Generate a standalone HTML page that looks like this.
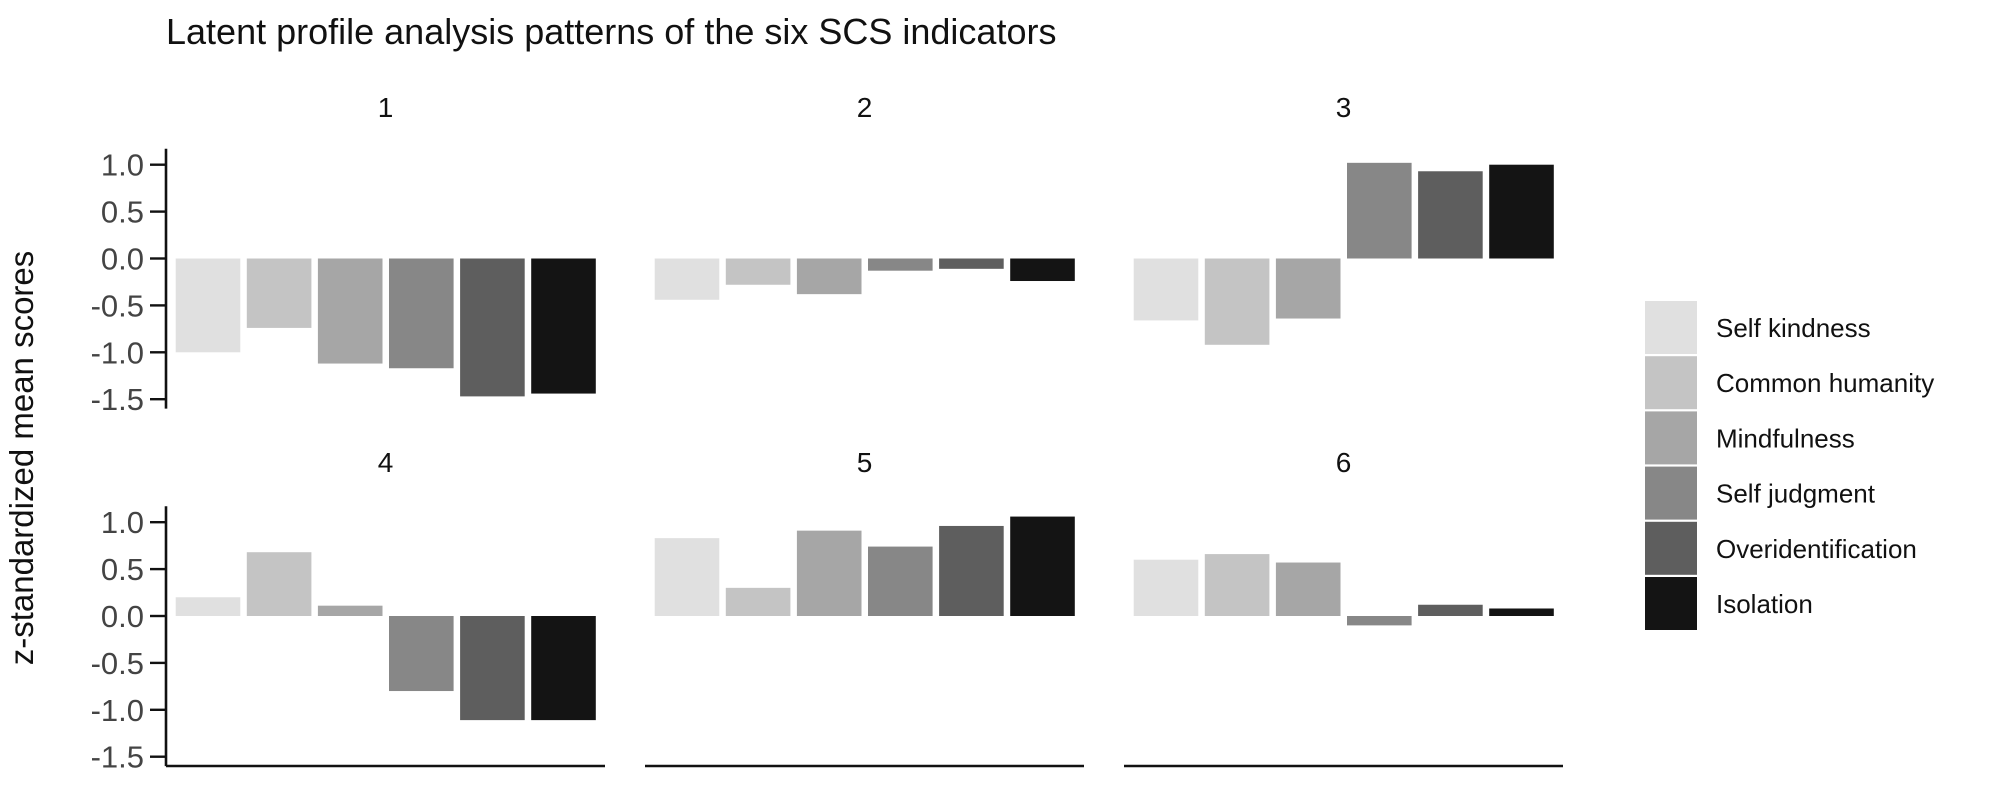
<!DOCTYPE html>
<html><head><meta charset="utf-8"><style>
body{margin:0;background:#fff;}
svg{display:block;font-family:"Liberation Sans",sans-serif;}
</style></head><body>
<svg id="chart" width="2000" height="800">
<text x="166" y="44" font-size="36" fill="#111">Latent profile analysis patterns of the six SCS indicators</text>
<text transform="translate(33,458) rotate(-90)" text-anchor="middle" font-size="33" fill="#111">z-standardized mean scores</text>
</svg>
<script>
const categories = ["Self kindness","Common humanity","Mindfulness","Self judgment","Overidentification","Isolation"];
const profiles = ["1","2","3","4","5","6"];
const p1 = [-1.0,-0.74,-1.12,-1.17,-1.47,-1.44];
const p2 = [-0.44,-0.28,-0.38,-0.13,-0.11,-0.24];
const p3 = [-0.66,-0.92,-0.64,1.02,0.93,1.0];
const p4 = [0.2,0.68,0.11,-0.8,-1.11,-1.11];
const p5 = [0.83,0.3,0.91,0.74,0.96,1.06];
const p6 = [0.6,0.66,0.57,-0.1,0.12,0.08];
const tickValues = [1.0,0.5,0.0,-0.5,-1.0,-1.5];
const tickLabels = ["1.0","0.5","0.0","-0.5","-1.0","-1.5"];
const colors = ["#e0e0e0","#c4c4c4","#a6a6a6","#878787","#5e5e5e","#141414"];

const series = [p1,p2,p3,p4,p5,p6];
const svg = document.getElementById('chart');
const NS = 'http://www.w3.org/2000/svg';
function mk(tag, attrs){const e=document.createElementNS(NS,tag);for(const k in attrs)e.setAttribute(k,attrs[k]);svg.appendChild(e);return e;}
const colX = [166,645,1124];
const panelW = 439;
const rowZero = [258.5,616];
const unit = 93.8;
const step = 71.1, barW = 64.6, off = 42;
function yScale(row,v){return rowZero[row]-v*unit;}
function xScale(col,i){return colX[col]+off+i*step;}

series.forEach((vals,p)=>{
  const row = Math.floor(p/3), col = p%3;
  const lbl = mk('text',{x:colX[col]+panelW/2,y:row===0?117:472,'text-anchor':'middle','font-size':28,fill:'#111'});
  lbl.textContent = profiles[p];
  
  
  vals.forEach((v,i)=>{
    const y0 = yScale(row,0), y1 = yScale(row,v);
    const r = mk('rect',{x:xScale(col,i)-barW/2,y:Math.min(y0,y1),width:barW,height:Math.abs(y1-y0),fill:colors[i]});
    
    
  });
  if(col===0){
    const ax = mk('line',{x1:166,x2:166,y1:yScale(row,1.17),y2:yScale(row,-1.6),stroke:'#111','stroke-width':2.6});
    
    
    tickValues.forEach((t,k)=>{
      const y = yScale(row,t);
      const tm = mk('line',{x1:150,x2:166,y1:y,y2:y,stroke:'#111','stroke-width':2.4});
      
      
      const tl = mk('text',{x:144,y:y+11,'text-anchor':'end','font-size':31,fill:'#444'});
      tl.textContent = tickLabels[k];
      
      
    });
  }
  if(row===1){
    const xa = mk('line',{x1:colX[col],x2:colX[col]+panelW,y1:766,y2:766,stroke:'#111','stroke-width':2.6});
    
    
  }
});
categories.forEach((c,i)=>{
  const y = 301+i*55.2;
  const k = mk('rect',{x:1645,y:y,width:52,height:53,fill:colors[i]});
  
  
  const t = mk('text',{x:1716,y:y+36,'font-size':26,fill:'#111'});
  t.textContent = c;
  
  
});
</script>
</body></html>
